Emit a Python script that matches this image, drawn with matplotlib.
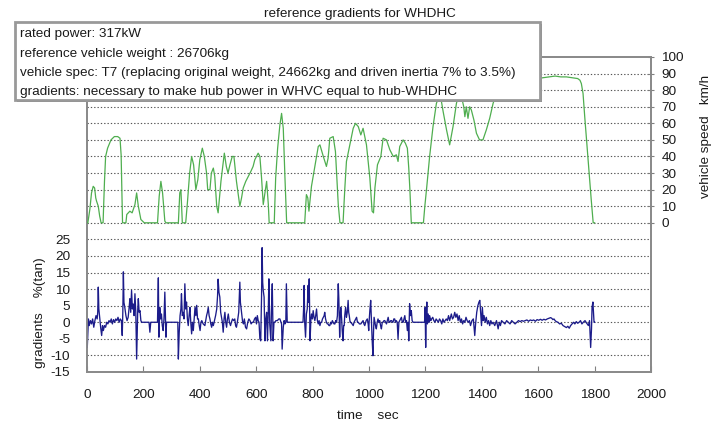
import matplotlib
matplotlib.use("Agg")
import matplotlib.pyplot as plt
from matplotlib.patches import Rectangle

plt.rcParams['font.family'] = ['Liberation Sans', 'DejaVu Sans']

# ---- data: vehicle speed (km/h) vs time (s) ----
speed_t = [0, 3, 10, 16, 22, 27, 31, 34, 40, 45, 50, 57, 62, 66, 73, 85, 97, 109, 117, 121, 126,
           138, 141, 152, 160, 170, 176, 182, 191, 203, 250, 256, 262, 268, 276, 280, 324, 329, 333,
           338, 350, 356, 364, 371, 378, 386, 393, 400, 409, 416, 424, 428, 436, 441, 448, 453, 460,
           465, 475, 487, 494, 500, 507, 515, 521, 530, 542, 548, 554, 563, 572, 581, 589, 595, 601,
           607, 613, 619, 625, 631, 637, 643, 646, 664, 669, 676, 684, 690, 696, 702, 708, 772, 778,
           783, 787, 796, 808, 820, 826, 838, 849, 855, 861, 873, 881, 891, 897, 908, 914, 920, 932,
           944, 952, 962, 971, 979, 991, 1003, 1011, 1016, 1021, 1030, 1042, 1050, 1062, 1074, 1086,
           1097, 1103, 1109, 1121, 1129, 1136, 1141, 1145, 1150, 1193, 1198, 1205, 1215, 1227, 1239,
           1250, 1256, 1263, 1275, 1286, 1298, 1310, 1318, 1328, 1336, 1340, 1345, 1351, 1357, 1363,
           1372, 1381, 1392, 1404, 1416, 1428, 1440, 1446, 1458, 1470, 1485, 1500, 1530, 1560, 1600,
           1617, 1640, 1660, 1680, 1700, 1720, 1740, 1748, 1753, 1759, 1765, 1777, 1788, 1795, 1800]
speed_v = [0, 0, 8, 18, 22, 21, 15, 13, 10, 4, 0, 0, 25, 40, 45, 50, 52, 52, 51, 41, 0,
           0, 5, 7, 6, 11, 18, 10, 2, 0, 0, 16, 25, 18, 1, 0, 0, 18, 20,
           0, 0, 12, 30, 40, 35, 20, 26, 38, 45, 40, 30, 20, 20, 30, 33, 28, 10,
           6, 25, 42, 34, 30, 35, 40, 40, 25, 10, 15, 21, 25, 28, 31, 34, 38, 40,
           42, 40, 27, 11, 18, 25, 11, 0, 0, 27, 45, 59, 66, 57, 27, 0, 0, 17,
           15, 7, 22, 34, 46, 47, 40, 34, 39, 51, 52, 43, 11, 0, 0, 20, 37, 47,
           57, 60, 58, 53, 57, 47, 27, 7, 6, 21, 35, 40, 51, 50, 44, 40,
           41, 37, 46, 50, 48, 45, 33, 20, 0, 0, 10, 22, 40, 58, 72,
           77, 74, 67, 56, 47, 58, 72, 77, 76, 70, 64, 70, 63, 70, 68,
           62, 54, 50, 50, 56, 63, 72, 75, 80, 84, 86, 87, 87, 87.5, 87,
           87.5, 88, 88.5, 88, 88, 87.5, 87, 86, 84, 78, 64, 38, 14, 0, 0]

# ---- data: gradient (% tan) vs time (s) ----
grad_t = [0, 1, 3, 5, 8, 12, 16, 20, 24, 28, 32, 36, 38, 40, 42, 45, 49, 52, 55, 58, 62, 66, 70, 74,
          78, 82, 86, 90, 94, 98, 102, 106, 110, 114, 118, 122, 125, 127, 129, 131, 134, 138, 142,
          146, 150, 152, 155, 158, 161, 164, 167, 170, 173, 176, 178, 180, 182, 185, 188, 191, 194,
          200, 220, 223, 226, 250, 253, 255, 258, 261, 264, 267, 270, 273, 276, 278, 280, 282, 322,
          324, 327, 330, 333, 335, 338, 341, 344, 347, 350, 353, 356, 359, 362, 365, 368, 371, 374,
          377, 380, 383, 386, 389, 392, 395, 398, 401, 404, 407, 412, 418, 421, 424, 427, 430, 433,
          436, 439, 442, 445, 448, 452, 456, 460, 463, 465, 468, 471, 474, 477, 480, 483, 486, 489,
          492, 495, 498, 501, 505, 509, 512, 516, 520, 524, 527, 530, 534, 538, 542, 544, 546, 549,
          552, 555, 558, 562, 566, 570, 574, 578, 582, 586, 590, 594, 598, 601, 604, 607, 610,
          613, 616, 619, 621, 623, 625, 628, 631, 634, 637, 640, 643, 645, 648, 652, 654, 657, 660,
          663, 666, 670, 675, 680, 684, 688, 690, 692, 696, 699, 702, 705, 707, 710, 713, 766, 768,
          770, 772, 775, 778, 781, 784, 786, 788, 790, 791, 794, 796, 799, 802, 805, 808, 811, 814,
          817, 820, 823, 826, 829, 832, 835, 838, 841, 843, 846, 849, 852, 855, 858, 861, 864, 867,
          870, 873, 876, 879, 882, 885, 888, 891, 893, 895, 896, 898, 900, 903, 905, 908, 910, 912,
          914, 917, 920, 923, 926, 928, 930, 933, 935, 940, 944, 947, 950, 953, 956, 959, 962, 966,
          971, 975, 979, 982, 985, 990, 994, 997, 999, 1001, 1003, 1006, 1008, 1011, 1014, 1016,
          1018, 1021, 1023, 1026, 1029, 1032, 1035, 1038, 1041, 1044, 1047, 1050, 1053, 1056, 1059,
          1062, 1065, 1068, 1071, 1074, 1077, 1080, 1083, 1085, 1088, 1091, 1094, 1097, 1100, 1103,
          1106, 1109, 1112, 1115, 1118, 1121, 1124, 1127, 1130, 1133, 1136, 1139, 1141, 1144, 1147,
          1150, 1153, 1156, 1197, 1199, 1201, 1203, 1205, 1207, 1210, 1213, 1215, 1219, 1222, 1226,
          1230, 1234, 1238, 1242, 1246, 1250, 1254, 1258, 1262, 1266, 1270, 1274, 1278, 1282, 1286,
          1292, 1296, 1300, 1304, 1308, 1312, 1316, 1320, 1324, 1328, 1332, 1336, 1340, 1344, 1348,
          1352, 1356, 1360, 1365, 1370, 1375, 1378, 1382, 1386, 1390, 1393, 1396, 1399, 1402, 1405,
          1408, 1412, 1416, 1420, 1424, 1428, 1432, 1436, 1440, 1446, 1452, 1458, 1462, 1466, 1470,
          1476, 1482, 1488, 1494, 1500, 1506, 1512, 1518, 1524, 1530, 1536, 1542, 1548, 1554, 1560,
          1566, 1572, 1578, 1584, 1590, 1596, 1602, 1608, 1614, 1620, 1626, 1632, 1638, 1644, 1648,
          1652, 1656, 1660, 1664, 1670, 1676, 1682, 1688, 1694, 1700, 1705, 1710, 1715, 1720, 1725,
          1730, 1735, 1740, 1745, 1750, 1755, 1760, 1766, 1772, 1778, 1782, 1786, 1789, 1791, 1794,
          1796, 1798, 1800]
grad_v = [0, -7.6, -3, 1.0, -1, 0.5, -0.5, 1.0, -1.5, 0.5, 2.0, 1.0, 3, 10.6, 4, 1.5, -2, -4, -1, -2.5,
          -1, -1.5, 0, -0.5, 0.5, 0, 1, -0.5, 0.8, 0, 1.0, 0.5, 1.5, 0, 1, 0.5, -4, 3, 15.2, 6, 4.5, 2,
          0.5, 1.5, 5, 7.1, 3, 9.6, 4, 5.5, 2, 8.6, 3, -11.1, -3, 4, 7.1, 3, 3.5, 0.5, 0,
          0, 0, -3, 0, 0, 13.4, -4.5, 4.5, 1, 2.5, -1, -2.5, 1, 9.1, 2, -4.5, 0, 0,
          -11.1, -3, 2, 4, 8.6, 2, 3, 1, 11.6, 4, 6.1, 1, -1, 2, 4.5, 0, -3.5, 0,
          -2.5, 1, 4.5, 2, 5.1, 1, 1.0, -1, -2.5, 0, 0.5, -0.5, -1, 0.5, 2, 3, 4.5, 2,
          1.0, -0.5, -1.5, 0, -1, 0.5, 2, 4, 8, 13, 9, 7.6, 3, 1.5, 0, -3, 1, 3.0,
          0, -1.5, 1, 2.5, 0, -1, 0, 1, 0.5, 1.0, -1, -1.5, 0.5, 3, 12.1, 6, 4.5, 2,
          0, -0.5, 1, -1.5, -2, 0, 1, 0.5, -0.5, 0, 0, 1, 1.5, -0.5, 2, 0.5, 0,
          -5, -5.6, 8, 22.5, 12, 9.6, 7.6, -5.6, 1, 3.0, -5.6, 4, 13.1, -0.5, -5.6, 3, 11.6, -5.6,
          0, 0, 0.5, 0.5, 1.0, 1.0, 0, -0.5, -8.1, -1.5, 0.5, -0.5, 0, 11.6, 0, 0, 0, 4,
          11.1, 0, -4.5, 2.5, 4, 11.1, 6, 13.1, 2, -5.6, 1, 2.5, 1, 3.5, 1.5, 0.5, 2, 4.0,
          0.5, -0.5, 0.5, -1.0, 0, 0, 1, 1.5, 2, 3.0, 1, 0, -0.5, -0.5, -1, -1.0, 0, -0.5,
          0.5, 0, -0.5, -0.5, 0.5, 0, 2, 11.6, 7.1, -1, -4.5, 2, 4.5, 1, -2.5, -5.6, -1, -1.0,
          2, 4.5, 1.5, 3, 6.6, 3, 2, 0, 0, -0.5, -1.0, 0, 0.5, 1.0, 1.5, 0, 0, -0.5,
          -0.5, 0, 0.5, -0.5, -1.0, 0.5, 1.0, -0.5, -2.5, 1, 3.5, 6.6, 2, -5, -10.1, -3,
          1.5, 0, -1.0, -2.0, 0, 1.0, 0, 0.5, -1, -2.0, 0, 0, 0.5, 0.5, 0,
          -0.5, 0.5, 1.5, 0, 0, 0.5, 0.5, 0, 0, 1, 1.0, 0, 0.5, 0, -5,
          0, 0.5, 1, 1.5, 0, 0, 1, 2.0, 0, 0.5, -2.5, 0, -5.6, 5.6, 2,
          3.5, 0.5, 0, 0, 4.5, -7.6, 2, 6.1, -0.5, 2.5, 0, 2.0, 0.5, 1, 1.5,
          0.5, 0, 1.0, 0.5, 0, 1.0, 0.5, -0.5, 1.0, 0, 0.5, 1, 0.5, 2, 0.5,
          2.5, 1.0, 1.5, 3.0, 1.5, 2.5, 0.5, 2.0, 0, 1.0, -0.5, 0.5, 0, 1.5, 0.5,
          0, 0.5, -1, 0.5, 1, -4, -0.5, 3.0, 5, 6.1, 6.6, 3, -1.0, 4.5, 0.5,
          2.0, 0, 1.5, -0.5, 0.5, -1.0, 0.5, -0.5, 0, -1.0, 0.5, -2, 0, -1.0, 0.5,
          0, -0.5, 0.5, 0, -0.5, 0.5, 0, -0.5, 0, 0.5, 0.2, 0.5, 0.3, 0.5, 0.7,
          0.3, 0.7, 0.5, 0.7, 0.3, 0.8, 0.6, 0.9, 0.6, 0.9, 0.7, 1.0, 1.2, 1.4, 1.2,
          0.8, 1.0, 0.5, 0.2, 0, -0.5, -0.3, -1.0, -1.3, -1.6, -1.2, -1.8, -1.0, -0.5, 0,
          -0.5, 0.2, -0.3, 0, 0.5, -0.5, 0, 0.5, -0.3, -1.0, 0.5, -7.6, -2, 4.5, 6.1,
          3, 0, 0]

x_ticks = [0, 200, 400, 600, 800, 1000, 1200, 1400, 1600, 1800, 2000]
grad_ticks = [-15, -10, -5, 0, 5, 10, 15, 20, 25]
speed_ticks = [0, 10, 20, 30, 40, 50, 60, 70, 80, 90, 100]

title = "reference gradients for WHDHC"
info_lines = ["rated power: 317kW",
              "reference vehicle weight : 26706kg",
              "vehicle spec: T7 (replacing original weight, 24662kg and driven inertia 7% to 3.5%)",
              "gradients: necessary to make hub power in WHVC equal to hub-WHDHC"]

fig = plt.figure(figsize=(7.2, 4.26), dpi=100)
ax = fig.add_axes([87/720, 1-372/426, (651-87)/720, (372-57)/426])
ax2 = ax.twinx()

FS = 9.7
TXT = '#1a1a1a'
grid_col = '#555555'
for g in grad_ticks[1:]:
    ax.axhline(g, color=grid_col, ls=(0, (1.2, 1.8)), lw=0.8, zorder=1)
for s in speed_ticks[:-1]:
    ax2.axhline(s, color=grid_col, ls=(0, (1.2, 1.8)), lw=0.8, zorder=1)

ax.plot(grad_t, grad_v, color='#1c1c8a', lw=0.95, zorder=3)
ax2.plot(speed_t, speed_v, color='#4fae4f', lw=0.9, zorder=3)

ax.set_xlim(0, 2000)
ax.set_ylim(-15, 80)
ax2.set_ylim(-90, 100)
ax.set_xticks(x_ticks)
ax.set_xticklabels([str(v) for v in x_ticks], fontsize=FS, color=TXT)
ax.set_yticks(grad_ticks)
ax.set_yticklabels([str(v) for v in grad_ticks], fontsize=FS, color=TXT)
ax2.set_yticks(speed_ticks)
ax2.set_yticklabels([str(v) for v in speed_ticks], fontsize=FS, color=TXT)

ax.tick_params(axis='x', direction='in', length=4, color='#808080', pad=12)
ax.tick_params(axis='y', length=0, pad=12)
ax2.tick_params(axis='y', direction='inout', length=5, color='#808080', pad=5)

for a in (ax, ax2):
    for sp in a.spines.values():
        sp.set_color('#8a8a8a')
        sp.set_linewidth(1.3)

fig.text(368/720, 1-416/426, "time    sec", fontsize=FS, color=TXT, ha='center', va='center')
fig.text(40/720, 1-313/426, "gradients    %(tan)", fontsize=FS, color=TXT, rotation=90,
         ha='center', va='center')
fig.text(706/720, 1-136/426, "vehicle speed   km/h", fontsize=FS, color=TXT, rotation=90,
         ha='center', va='center')
fig.text(360/720, 1-14/426, title, fontsize=FS, color=TXT, ha='center', va='center')

# info box
bx0, bx1, by0, by1 = 15/720, 540/720, 1-100/426, 1-22/426
fig.patches.append(Rectangle((bx0 + 2/720, by0 - 2/426), bx1 - bx0, by1 - by0,
                             transform=fig.transFigure, facecolor='#777777', edgecolor='none', zorder=5))
fig.patches.append(Rectangle((bx0, by0), bx1 - bx0, by1 - by0, transform=fig.transFigure,
                             facecolor='white', edgecolor='#999999', lw=2.0, zorder=6))
line_y = [34, 54, 73, 92]
for yy, txt in zip(line_y, info_lines):
    fig.text(20/720, 1-yy/426, txt, fontsize=FS, color=TXT, ha='left', va='center', zorder=7)

fig.savefig("out.png", dpi=100)
